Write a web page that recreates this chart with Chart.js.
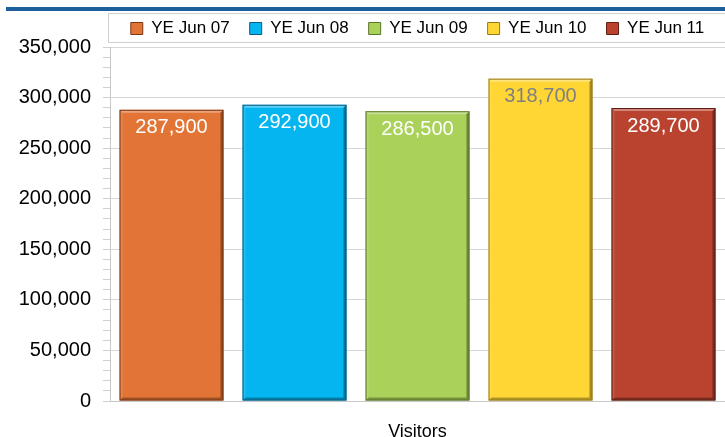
<!DOCTYPE html>
<html>
<head>
<meta charset="utf-8">
<script src="https://cdn.jsdelivr.net/npm/chart.js@4/dist/chart.umd.min.js"></script>
<style>
    html, body { margin: 0; padding: 0; background: #ffffff; }
    #wrap { width: 725px; height: 437px; position: relative; }
</style>
</head>
<body>
<div id="wrap"><canvas id="myChart"></canvas></div>
<script>
// Chart data
const categories = ["Visitors"];
const seriesNames = ["YE Jun 07", "YE Jun 08", "YE Jun 09", "YE Jun 10", "YE Jun 11"];
const visitors07 = [287900];
const visitors08 = [292900];
const visitors09 = [286500];
const visitors10 = [318700];
const visitors11 = [289700];
const yTicks = [0, 50000, 100000, 150000, 200000, 250000, 300000, 350000];

const fillColors = ["#E27535", "#05B5F0", "#AAD15A", "#FFD633", "#B9432F"];
const edgeColors = ["#7d3812", "#0b5a80", "#5a7628", "#94781c", "#5e1e12"];
const labelColors = ["#ffffff", "#ffffff", "#ffffff", "#808080", "#ffffff"];

(function () {
    var seriesValues = [visitors07, visitors08, visitors09, visitors10, visitors11];
    var baseFont = "'Liberation Sans', Arial, sans-serif";

    // Blue rule across the top and the box around the legend
    var framePlugin = {
        id: "frame",
        beforeDraw: function (chart) {
            var ctx = chart.ctx;
            var lg = chart.legend;
            ctx.save();
            ctx.fillStyle = "#1d5f9b";
            ctx.fillRect(6, 7, chart.width - 6, 4);
            ctx.strokeStyle = "#d0d0d0";
            ctx.lineWidth = 1;
            ctx.strokeRect(108.5, lg.top + 13.5, chart.width, 29);
            ctx.restore();
        }
    };

    // Bevelled edges on each bar, then the value label near its top
    var bevelAndLabels = {
        id: "bevelAndLabels",
        afterDatasetsDraw: function (chart) {
            var ctx = chart.ctx;
            var b = 3;
            ctx.save();
            chart.data.datasets.forEach(function (ds, i) {
                var meta = chart.getDatasetMeta(i);
                meta.data.forEach(function (bar, j) {
                    var l = bar.x - bar.width / 2, r = bar.x + bar.width / 2;
                    var t = bar.y, btm = bar.base;
                    function poly(pts, color) {
                        ctx.beginPath();
                        ctx.moveTo(pts[0], pts[1]);
                        for (var k = 2; k < pts.length; k += 2) ctx.lineTo(pts[k], pts[k + 1]);
                        ctx.closePath();
                        ctx.fillStyle = color;
                        ctx.fill();
                    }
                    // top highlight
                    poly([l, t, r, t, r - b, t + b, l + b, t + b], "rgba(255,255,255,0.35)");
                    // left light edge
                    poly([l, t, l + b, t + b, l + b, btm - b, l, btm], "rgba(255,255,255,0.12)");
                    // right dark edge
                    poly([r, t, r, btm, r - b, btm - b, r - b, t + b], "rgba(0,0,0,0.35)");
                    // bottom dark edge
                    poly([l, btm, r, btm, r - b, btm - b, l + b, btm - b], "rgba(0,0,0,0.3)");
                    ctx.strokeStyle = edgeColors[i];
                    ctx.lineWidth = 1;
                    ctx.strokeRect(l + 0.5, t + 0.5, bar.width - 1, btm - t - 1);

                    ctx.font = "20px " + baseFont;
                    ctx.textAlign = "center";
                    ctx.textBaseline = "middle";
                    ctx.fillStyle = labelColors[i];
                    ctx.fillText(ds.data[j].toLocaleString("en-US"), bar.x, bar.y + 18);
                });
            });
            ctx.restore();
        }
    };

    var datasets = seriesNames.map(function (name, i) {
        return {
            label: name,
            data: seriesValues[i],
            backgroundColor: fillColors[i],
            borderColor: edgeColors[i],
            borderWidth: 0,
            barPercentage: 0.845,
            categoryPercentage: 1.0
        };
    });

    var ctx = document.getElementById("myChart").getContext("2d");
    new Chart(ctx, {
        type: "bar",
        data: { labels: categories, datasets: datasets },
        options: {
            responsive: true,
            maintainAspectRatio: false,
            animation: false,
            layout: { padding: { top: 0, left: 17, right: 0, bottom: 0 } },
            plugins: {
                legend: {
                    position: "top",
                    fullSize: false,
                    labels: {
                        font: { family: baseFont, size: 17 },
                        color: "#000000",
                        boxWidth: 12,
                        boxHeight: 12,
                        padding: 20,
                        generateLabels: function (chart) {
                            return chart.data.datasets.map(function (ds, i) {
                                return {
                                    text: ds.label,
                                    fillStyle: fillColors[i],
                                    strokeStyle: edgeColors[i],
                                    lineWidth: 1,
                                    datasetIndex: i
                                };
                            });
                        }
                    }
                },
                tooltip: { enabled: false }
            },
            scales: {
                x: {
                    grid: { display: false, drawTicks: false },
                    border: { color: "#c8c8c8" },
                    afterFit: function (scale) { scale.height = 36; },
                    ticks: {
                        font: { family: baseFont, size: 18 },
                        color: "#000000",
                        padding: 20
                    }
                },
                y: {
                    min: yTicks[0],
                    max: yTicks[yTicks.length - 1],
                    border: { color: "#c8c8c8" },
                    afterFit: function (scale) { scale.width = 93; },
                    grid: {
                        color: function (c) {
                            return c.tick && c.tick.value % 50000 === 0 ? "#d6d6d6" : "rgba(0,0,0,0)";
                        },
                        tickColor: "#d0d0d0",
                        tickLength: 7
                    },
                    afterBuildTicks: function (scale) {
                        var ticks = [];
                        for (var v = yTicks[0]; v <= yTicks[yTicks.length - 1]; v += 10000) {
                            ticks.push({ value: v });
                        }
                        scale.ticks = ticks;
                    },
                    ticks: {
                        autoSkip: false,
                        padding: 12,
                        font: { family: baseFont, size: 20 },
                        color: "#000000",
                        callback: function (value) {
                            return yTicks.indexOf(value) >= 0 ? value.toLocaleString("en-US") : "";
                        }
                    }
                }
            }
        },
        plugins: [framePlugin, bevelAndLabels]
    });
})();
</script>
</body>
</html>
